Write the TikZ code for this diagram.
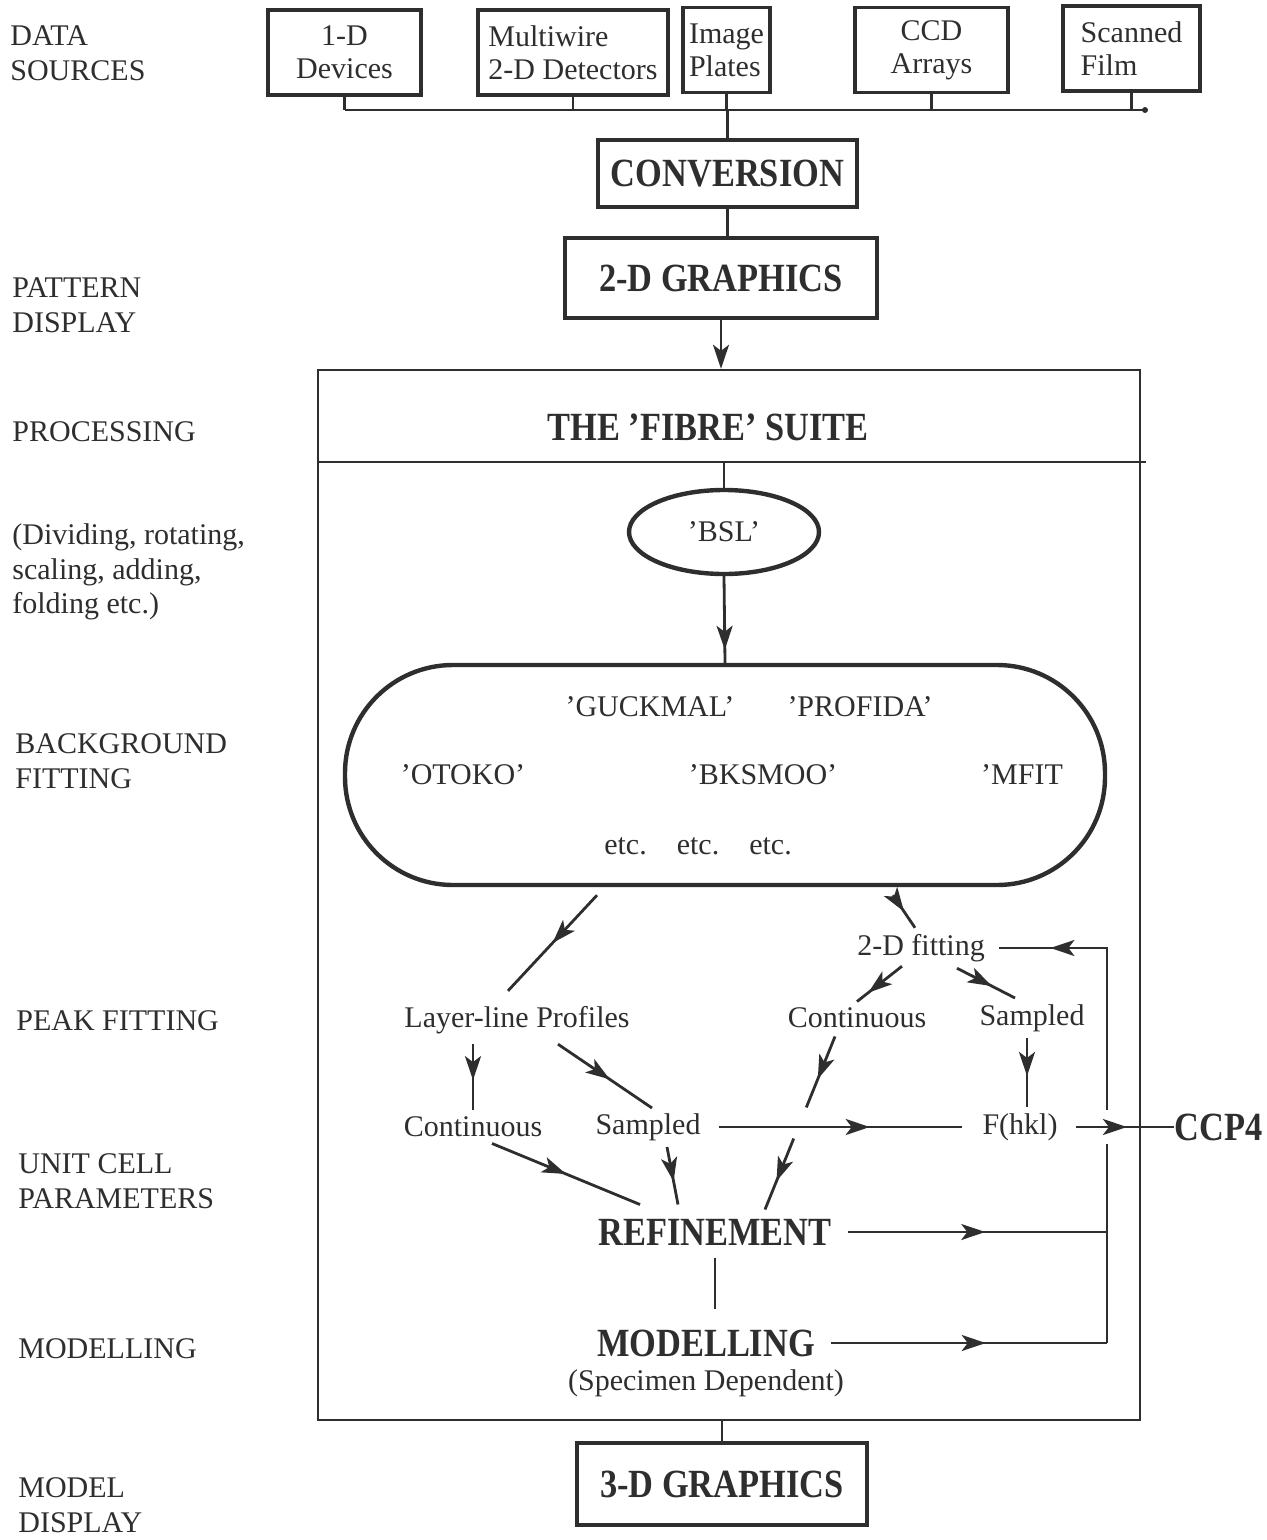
\documentclass[tikz,border=0pt]{standalone}
\usepackage{fontspec}
\setmainfont{Liberation Serif}
\newfontfamily\headfont[Ligatures=TeX,FakeStretch=0.86]{Liberation Serif}
\usetikzlibrary{calc,positioning,arrows.meta,decorations.markings,shapes.geometric}
\definecolor{ink}{gray}{0.18}
\tikzset{
  srcbox/.style={draw=ink,line width=1.7pt,minimum height=42.5pt,inner xsep=3pt,align=center,font=\fontsize{15}{16.5}\selectfont},
  lbl/.style={anchor=west,inner sep=0pt,align=left,font=\fontsize{15}{17.3}\selectfont},
  txt/.style={inner sep=3pt,font=\fontsize{15}{17}\selectfont},
  hd/.style={inner sep=3pt,font=\headfont\bfseries\fontsize{20}{22}\selectfont},
  hdbox/.style={hd,draw=ink,line width=1.9pt},
  conn/.style={draw=ink,line width=1.4pt},
  marr/.style={postaction={decorate},decoration={markings,mark=at position #1 with {\arrow{Stealth[length=12pt,width=8pt,inset=3pt]}}}},
  marr/.default=0.5
}
\begin{document}
\begin{tikzpicture}[x=0.5pt,y=-0.5pt,ink]
  \useasboundingbox (0,0) rectangle (1267,1540);

  \node[lbl] (src) at (10,53) {DATA\\SOURCES};
  \node[lbl] (pat) at (12,305) {PATTERN\\DISPLAY};
  \node[lbl] (proc) at (12,432) {PROCESSING};
  \node[lbl] (divi) at (12,572) {(Dividing, rotating,\\scaling, adding,\\folding etc.)};
  \node[lbl] (bg) at (15,761) {BACKGROUND\\FITTING};
  \node[lbl] (peak) at (16,1021) {PEAK FITTING};
  \node[lbl] (cell) at (18,1181) {UNIT CELL\\PARAMETERS};
  \node[lbl] (modl) at (18,1349) {MODELLING};
  \node[lbl] (mdisp) at (18,1505) {MODEL\\DISPLAY};

  \node[srcbox,minimum width=76.5pt] (d1) at (344.5,52.5) {1-D\\Devices};
  \node[srcbox,minimum width=95pt,align=left] (d2) at (573,52.5) {Multiwire\\2-D Detectors};
  \node[srcbox,minimum width=43.5pt,align=left] (d3) at (726.5,50) {Image\\Plates};
  \node[srcbox,minimum width=76.5pt] (d4) at (931.5,50) {CCD\\Arrays};
  \node[srcbox,minimum width=68.5pt,align=left] (d5) at (1131.5,48.5) {Scanned\\Film};

  \coordinate (bus) at (0,110);
  \coordinate (busend) at (1145,110);
  \foreach \n in {d1,d2,d3,d4,d5}
    \draw[conn] (\n.south) -- (\n.south |- bus);
  \draw[conn] (d1.south |- bus) -- (busend);
  \fill (busend) circle (1.5pt);

  \node[hdbox,minimum width=129.5pt,minimum height=33.5pt] (conv) at (727.5,173.5) {CONVERSION};
  \draw[conn] (conv.north |- bus) -- (conv.north);
  \node[hdbox,minimum width=156pt,minimum height=40pt] (gfx2) at (721,278) {2-D GRAPHICS};
  \draw[conn] (conv.south) -- (conv.south |- gfx2.north);

  \node[draw=ink,line width=1.2pt,inner sep=0pt,minimum width=411pt,minimum height=525pt] (suite) at (729,895) {};
  \draw[conn,-{Stealth[length=12pt,width=8pt,inset=3pt]}] (gfx2.south) -- (gfx2.south |- suite.north);
  \node[hd] (title) at (708,427) {THE 'FIBRE' SUITE};
  \coordinate (dv) at (0,462);
  \draw[line width=1.2pt] (suite.west |- dv) -- ($(suite.east |- dv)+(5,0)$);

  \node[ellipse,draw=ink,line width=2.2pt,minimum width=95pt,minimum height=42pt,txt] (bsl) at (724,532) {'BSL'};
  \draw[conn] (bsl.north |- dv) -- (bsl.north);
  \node[draw=ink,line width=2.2pt,rounded corners=54pt,minimum width=380pt,minimum height=110pt] (blob) at (725,775) {};
  \draw[conn,marr=0.85] (bsl.south) -- (blob.north);

  \node[txt] (guck) at (650,707) {'GUCKMAL'};
  \node[txt] (prof) at (860,707) {'PROFIDA'};
  \node[txt] (otoko) at (463,775) {'OTOKO'};
  \node[txt] (bks) at (763,775) {'BKSMOO'};
  \node[txt] (mfit) at (1022,775) {'MFIT};
  \node[txt] (etc) at (698,846) {etc.\hspace{15pt}etc.\hspace{15pt}etc.};

  \node[txt] (llp) at (517,1020) {Layer-line Profiles};
  \node[txt] (fit) at (921,948) {2-D fitting};
  \node[txt] (rcont) at (857,1018) {Continuous};
  \node[txt] (rsamp) at (1032,1018) {Sampled};
  \node[txt] (fhkl) at (1020,1127) {F(hkl)};
  \node[txt] (lcont) at (473,1127) {Continuous};
  \node[txt] (lsamp) at (648,1127) {Sampled};
  \node[hd] (ref) at (715,1232) {REFINEMENT};
  \node[hd] (model) at (706,1343) {MODELLING};
  \node[txt,below=0pt of model] (spec) {(Specimen Dependent)};
  \node[hd,anchor=west,inner sep=0pt] (ccp) at (1174,1127) {CCP4};
  \node[hdbox,minimum width=145pt,minimum height=41pt] (gfx3) at (722,1484) {3-D GRAPHICS};
  \draw[conn] (suite.south -| gfx3.north) -- (gfx3.north);

  \draw[conn,marr=0.5] ($(blob.south)+(-128,8)$) -- ($(llp.north)+(-9,-9)$);
  \draw[conn,marr=0.5] ($(blob.south)+(168,8)$) -- ($(fit.north)+(-6,0)$);
  \draw[conn,marr=0.75] ($(fit.south)+(-19,-2)$) -- (rcont.north);
  \draw[conn,marr=0.6] ($(fit.south)+(36,0)$) -- ($(rsamp.north)+(-17,0)$);
  \draw[conn,marr=0.55] ($(rsamp.south)+(-5,0)$) -- ($(fhkl.north)+(7,0)$);
  \draw[conn,marr=0.62] ($(lsamp.east)+(12,0)$) -- ($(fhkl.west)+(-14,0)$);
  \draw[conn,marr=0.52] ($(fhkl.east)+(12,0)$) -- (ccp.west);

  \coordinate (ra) at ($(rcont.south)+(-22,2)$);
  \coordinate (rb) at ($(ref.north)+(50,-3)$);
  \draw[conn,marr=0.6] (ra) -- ($(ra)!0.41!(rb)$);
  \draw[conn,marr=0.6] ($(ra)!0.59!(rb)$) -- (rb);

  \draw[conn,marr=0.55] ($(llp.south)+(-44,4)$) -- ($(lcont.north)+(0,-1)$);
  \draw[conn,marr=0.55] ($(llp.south)+(41,4)$) -- ($(lsamp.north)+(4,1)$);
  \draw[conn,marr=0.5] ($(lcont.south)+(19,0)$) -- ($(ref.north)+(-75,-8)$);
  \draw[conn,marr=0.6] ($(lsamp.south)+(19,0)$) -- ($(ref.north)+(-37,-8)$);
  \draw[conn,shorten <=3pt,shorten >=7pt] (ref.south) -- (ref.south |- model.north);

  \coordinate (fbt) at (1107,948);
  \draw[conn,marr=0.53] ($(ref.east)+(10,0)$) -- (ref.east -| fbt);
  \draw[conn,marr=0.56] ($(model.east)+(10,0)$) -- (model.east -| fbt);
  \draw[conn] (model.east -| fbt) -- ($(fhkl.east -| fbt)+(0,17)$);
  \draw[conn,marr=0.81] ($(fhkl.east -| fbt)+(0,-17)$) -- (fbt) -- ($(fit.east)+(8,0)$);
\end{tikzpicture}
\end{document}
